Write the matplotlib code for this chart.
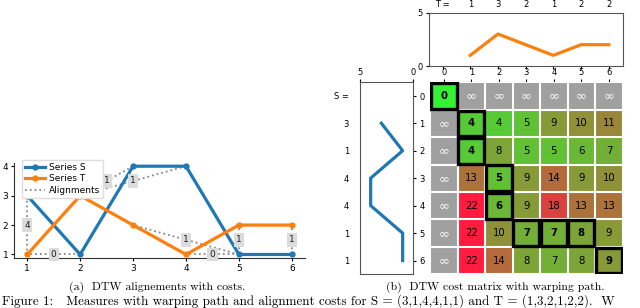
import numpy as np
import matplotlib
matplotlib.use("Agg")
import matplotlib.pyplot as plt
from matplotlib.colors import LinearSegmentedColormap
from matplotlib.patches import Rectangle
from matplotlib.lines import Line2D

# ---- data ----
S = [3, 1, 4, 4, 1, 1]
T = [1, 3, 2, 1, 2, 2]
positions = [1, 2, 3, 4, 5, 6]
INF = np.inf
cost = [
    [0, INF, INF, INF, INF, INF, INF],
    [INF, 4, 4, 5, 9, 10, 11],
    [INF, 4, 8, 5, 5, 6, 7],
    [INF, 13, 5, 9, 14, 9, 10],
    [INF, 22, 6, 9, 18, 13, 13],
    [INF, 22, 10, 7, 7, 8, 9],
    [INF, 22, 14, 8, 7, 8, 9],
]
path = [(0, 0), (1, 1), (2, 1), (3, 2), (4, 2), (5, 3), (5, 4), (5, 5), (6, 6)]
# alignments (S index, T index) 1-based, and their costs
align_pairs = [(1, 1), (2, 1), (3, 2), (4, 2), (5, 3), (5, 4), (5, 5), (6, 6)]
align_costs = [4, 0, 1, 1, 1, 0, 1, 1]

blue = "#1f77b4"
orange = "#ff7f0e"
spine_gray = "#555555"

fig = plt.figure(figsize=(6.4, 3.08), dpi=100)

# ---------------- (a) alignments ----------------
ax = fig.add_axes([0.0219, 0.1623, 0.4547, 0.3095])
for (i, j), c in zip(align_pairs, align_costs):
    xs, ys = positions[i - 1], S[i - 1]
    xt, yt = positions[j - 1], T[j - 1]
    ax.plot([xs, xt], [ys, yt], ls=":", color="#888888", lw=1.3, zorder=1)
    ax.text((xs + xt) / 2, (ys + yt) / 2, str(c), ha="center", va="center",
            fontsize=6.5, color="#222222", zorder=5,
            bbox=dict(boxstyle="square,pad=0.25", fc="#dcdcdc", ec="none"))
ax.plot(positions, S, "-o", color=blue, lw=2.3, ms=3.5, zorder=3)
ax.plot(positions, T, "-o", color=orange, lw=2.3, ms=3.5, zorder=3)
ax.set_xlim(0.75, 6.25)
ax.set_ylim(0.88, 4.12)
ax.set_xticks(positions)
ax.set_yticks([1, 2, 3, 4])
ax.tick_params(labelsize=6.5, length=2.5, pad=1.5)
for s in ["top", "right"]:
    ax.spines[s].set_visible(False)
for s in ["left", "bottom"]:
    ax.spines[s].set_color("#333333")
handles = [
    Line2D([], [], color=blue, lw=2.3, marker="o", ms=3.5, label="Series S"),
    Line2D([], [], color=orange, lw=2.3, marker="o", ms=3.5, label="Series T"),
    Line2D([], [], color="#888888", lw=1.3, ls=":", label="Alignments"),
]
fig.legend(handles=handles, loc="upper left", bbox_to_anchor=(17 / 640, 1 - 155.5 / 308),
           fontsize=6.5, handlelength=2.2, borderpad=0.35, labelspacing=0.25,
           handletextpad=0.5, framealpha=1, edgecolor="#dddddd", fancybox=True)

# ---------------- (b) cost matrix ----------------
cmap = LinearSegmentedColormap.from_list("gr", [(0.2, 0.95, 0.2), (1.0, 0.11, 0.25)])
cmap.set_bad("#a0a0a0")
vals = np.array(cost, dtype=float)
masked = np.ma.masked_invalid(vals)

axm = fig.add_axes([0.6719, 0.1094, 0.3011, 0.6234])
axm.imshow(masked, cmap=cmap, vmin=0, vmax=22, aspect="auto", interpolation="nearest")
n = vals.shape[0]
for k in range(n + 1):
    axm.axhline(k - 0.5, color="white", lw=1.5, zorder=2)
    axm.axvline(k - 0.5, color="white", lw=1.5, zorder=2)
pset = set(path)
for i in range(n):
    for j in range(n):
        v = vals[i, j]
        if np.isinf(v):
            axm.text(j, i, "\u221e", ha="center", va="center", color="white", fontsize=9.5)
        else:
            axm.text(j, i, str(int(v)), ha="center", va="center", color="black",
                     fontsize=7.3, fontweight="bold" if (i, j) in pset else "normal", zorder=6)
for (i, j) in path:
    axm.add_patch(Rectangle((j - 0.47, i - 0.47), 0.94, 0.94, fill=False,
                            ec="black", lw=2.4, zorder=5))
axm.set_xlim(-0.5, n - 0.5)
axm.set_ylim(n - 0.5, -0.5)
axm.set_xticks(range(n))
axm.set_yticks(range(n))
axm.xaxis.tick_top()
axm.tick_params(axis="x", labelsize=6, length=2, pad=1.5, top=True, labeltop=True,
                bottom=False, labelbottom=False)
axm.tick_params(axis="y", labelsize=6, length=0, pad=4)
for s in axm.spines.values():
    s.set_visible(False)

# top series T
axt = fig.add_axes([0.6698, 0.7857, 0.3031, 0.1731])
axt.plot(positions, T, color=orange, lw=2.3)
axt.set_xlim(-0.5, 6.5)
axt.set_ylim(0, 5)
axt.set_yticks([0, 5])
axt.set_xticks(range(n))
axt.tick_params(axis="x", length=2, labelbottom=False)
axt.tick_params(axis="y", labelsize=6, length=2.5, pad=1.5)
for s in axt.spines.values():
    s.set_color(spine_gray)
sec = axt.secondary_xaxis("top")
sec.set_xticks(range(n))
sec.set_xticklabels(["T ="] + [str(v) for v in T])
sec.tick_params(length=0, labelsize=6, pad=3)
sec.spines["top"].set_visible(False)

# left series S
axl = fig.add_axes([0.5625, 0.1094, 0.0833, 0.6244])
axl.plot(S, positions, color=blue, lw=2.3)
axl.set_xlim(5, 0)
axl.set_ylim(6.5, -0.5)
axl.set_xticks([5, 0])
axl.set_yticks(range(n))
axl.set_yticklabels(["S ="] + [str(v) for v in S])
axl.xaxis.tick_top()
axl.tick_params(axis="x", labelsize=6, length=2, pad=1.5)
axl.tick_params(axis="y", labelsize=6, left=False, right=True, length=2, pad=6)
for s in axl.spines.values():
    s.set_color(spine_gray)

# captions
fig.text(157 / 640, 1 - 287 / 308, "(a)  DTW alignements with costs.", ha="center", va="center",
         fontsize=8.5, family="cmr10")
fig.text(495 / 640, 1 - 287 / 308, "(b)  DTW cost matrix with warping path.", ha="center",
         va="center", fontsize=8.5, family="cmr10")
fig.text(0.003, 0.5 / 308,
         "Figure 1:   Measures with warping path and alignment costs for S = (3,1,4,4,1,1) and T = (1,3,2,1,2,2).  W",
         ha="left", va="bottom", fontsize=9.4, family="cmr10")

fig.savefig("out.png", dpi=100)
